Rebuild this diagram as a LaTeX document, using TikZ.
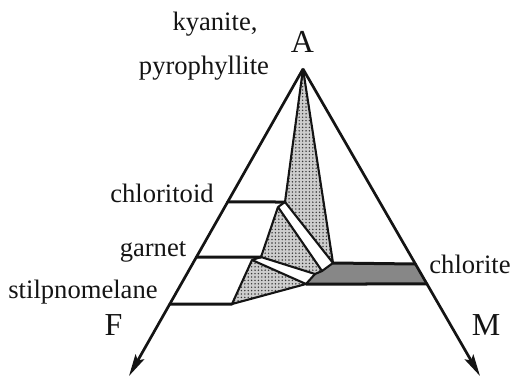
\documentclass[tikz,border=0pt]{standalone}
\usepackage{fontspec}
\setmainfont{Liberation Serif}
\usepackage{xcolor}
\definecolor{afmInk} {RGB}{ 20,  20,  20}
\definecolor{afmStip}{RGB}{205, 205, 205}
\definecolor{afmChl} {RGB}{135, 135, 135}
\usepackage{tikz}
\usetikzlibrary{
  arrows.meta,
  patterns.meta,
  calc,
}

\begin{document}
\begin{tikzpicture}[
  x=0.5pt, y=-0.5pt,
  >={Stealth[length=11pt, width=5pt, inset=2pt]},
  arm/.style={->, line width=1.35pt, draw=afmInk},
  tie/.style={line width=1.5pt, draw=afmInk, line cap=round},
  rim/.style={line width=1.05pt, draw=afmInk, line join=round},
  % stippled three-phase fields: grey ground with fine dots on top
  stip/.style={preaction={fill=afmStip},
               pattern={Dots[distance=1.7pt, radius=0.4pt]},
               pattern color=afmInk!85},
  chl/.style={fill=afmChl},
  lbl/.style={anchor=base, inner sep=0pt, text=afmInk,
              font=\fontsize{13.3}{15}\selectfont},
  apex/.style={lbl, font=\fontsize{16}{18}\selectfont},
]
  \useasboundingbox (0,0) rectangle (512,379);

  % Triangle corners (F and M are the arrow tips)
  \coordinate (A) at (303,69);
  \coordinate (F) at (129,376);
  \coordinate (M) at (480,376);

  % Phase points on the A--F and A--M sides
  \coordinate (ctdL) at ($(A)!0.4332!(F)$);
  \coordinate (grtL) at ($(A)!0.6124!(F)$);
  \coordinate (stpL) at ($(A)!0.7655!(F)$);
  \coordinate (chlT) at ($(A)!0.6352!(M)$);
  \coordinate (chlB) at ($(A)!0.7003!(M)$);

  % Inner ends of the tie fields
  \coordinate (ctdE) at (285,202);
  \coordinate (b1)   at (278,207);
  \coordinate (q)    at (333,263);
  \coordinate (r1)   at (322,271);
  \coordinate (grtE) at (261,257);
  \coordinate (r2)   at (315,274);
  \coordinate (b)    at (306,284);
  \coordinate (g2)   at (252,260);
  \coordinate (stpE) at (232,304);

  % Fields
  \path[stip] (A) -- (ctdE) -- (q) -- cycle;
  \path[stip] (b1) -- (grtE) -- (r2) -- (r1) -- cycle;
  \path[stip] (g2) -- (stpE) -- (b) -- cycle;
  \path[chl]  (q) -- (chlT) -- (chlB) -- (b) -- (r2) -- (r1) -- cycle;

  % Outlines of the fields
  \draw[rim] (A) -- (ctdE) -- (q) -- cycle;
  \draw[rim] (ctdE) -- (b1) -- (r1) -- (q);
  \draw[rim] (b1) -- (grtE) -- (r2) -- (r1);
  \draw[rim] (grtE) -- (g2) -- (b) -- (r2);
  \draw[rim] (g2) -- (stpE) -- (b);

  % Tie lines from the sides
  \draw[tie] (ctdL) -- (ctdE);
  \draw[tie] (grtL) -- (grtE);
  \draw[tie] (stpL) -- (stpE);
  \draw[tie] (q) -- (chlT);
  \draw[tie] (b) -- (chlB);

  % Sides of the triangle
  \draw[arm] (A) -- (F);
  \draw[arm] (A) -- (M);

  % Labels
  \node[lbl]  (kya) at (215,31)   {kyanite,};
  \node[lbl]  (pyr) at (204,75)   {pyrophyllite};
  \node[lbl]  (ctd) at (162,202)  {chloritoid};
  \node[lbl]  (grt) at (153,256)  {garnet};
  \node[lbl]  (stp) at (83,298)   {stilpnomelane};
  \node[lbl]  (chl) at (470,273)  {chlorite};
  \node[apex] (lA)  at (302.5,53) {A};
  \node[apex] (lF)  at (113.5,335) {F};
  \node[apex] (lM)  at (486,335)  {M};
\end{tikzpicture}
\end{document}
